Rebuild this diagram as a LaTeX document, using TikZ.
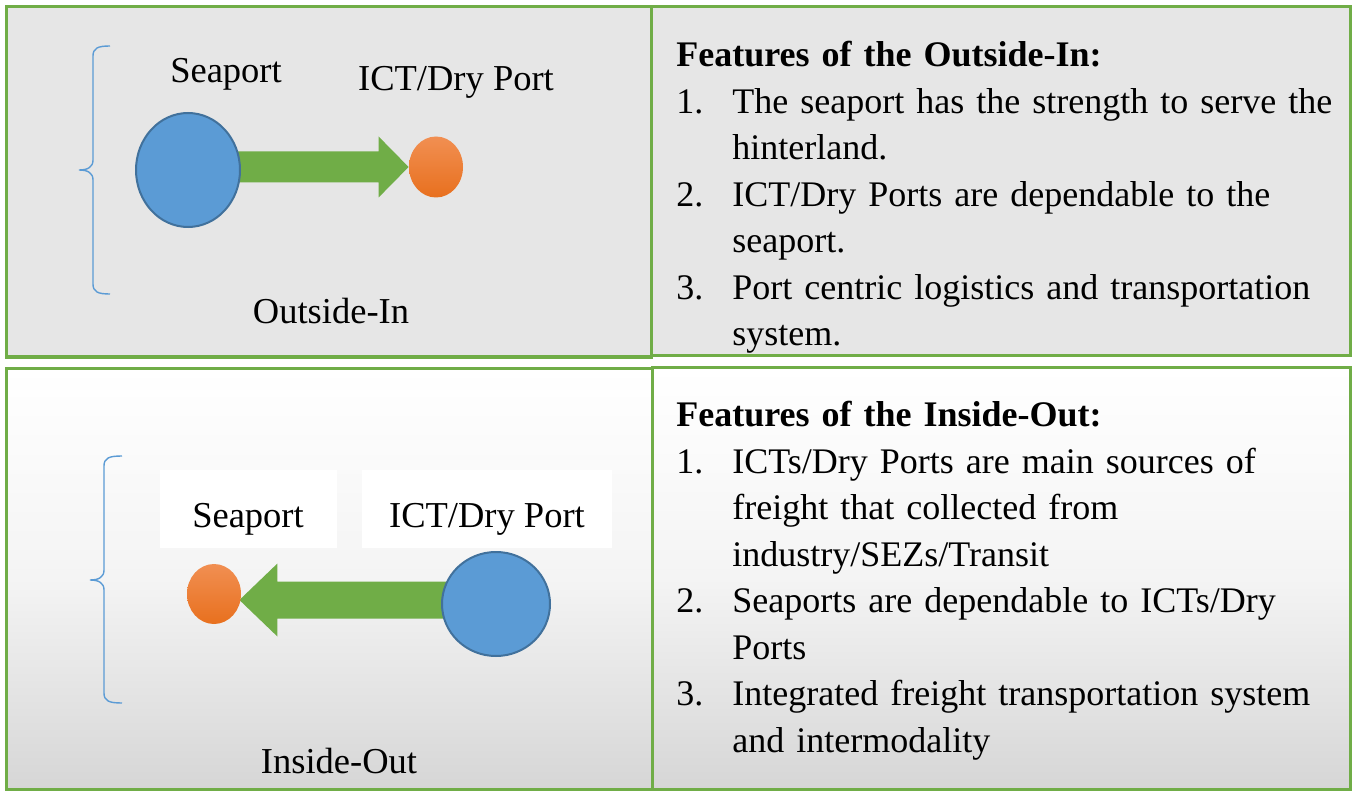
\documentclass[tikz,border=0pt]{standalone}
\usepackage{fontspec}
\setmainfont{Liberation Serif}
\usetikzlibrary{shapes.geometric}
\definecolor{boxgreen}{RGB}{112,173,71}
\definecolor{panelgray}{RGB}{230,230,230}
\definecolor{bluefill}{RGB}{91,155,213}
\definecolor{blueline}{RGB}{65,113,156}
\definecolor{orangetop}{RGB}{241,143,82}
\definecolor{orangebot}{RGB}{232,112,30}
\definecolor{arrowgreen}{RGB}{112,173,71}
\definecolor{bracecol}{RGB}{91,155,213}
\definecolor{shadebot}{RGB}{214,214,214}
\definecolor{shademid}{RGB}{244,244,244}
\pgfdeclarelayer{back}
\pgfdeclarelayer{mid}
\pgfsetlayers{back,mid,main}
\newcommand{\featitem}[1]{\par\hangindent=28pt\hangafter=1\noindent\makebox[28pt][l]{#1}}
\begin{document}
\begin{tikzpicture}[x=0.5pt,y=-0.5pt,
  panel/.style={draw=boxgreen,line width=1.5pt},
  bigcirc/.style={ellipse,draw=blueline,line width=1pt,fill=bluefill,inner sep=0pt},
  smallcirc/.style={ellipse,top color=orangetop,bottom color=orangebot,draw=none,inner sep=0pt},
  lbl/.style={font=\fontsize{18.25pt}{22pt}\selectfont,inner sep=0pt,anchor=base},
  whitelbl/.style={lbl,fill=white,text height=28.5pt,text depth=10.5pt},
  feat/.style={font=\fontsize{18pt}{23.25pt}\selectfont\setlength\parindent{0pt},inner sep=0pt,anchor=north west,text width=336pt,align=left},
  brace/.style={draw=bracecol,line width=0.7pt},
  flow/.style={fill=arrowgreen}
  ]
\useasboundingbox (0,0) rectangle (1355,791);
\begin{pgfonlayer}{back}
\fill[white] (0,0) rectangle (1355,791);
\path[panel,fill=panelgray] (6,7) rectangle (651,357);
\path[panel,fill=panelgray] (651,7) rectangle (1350,356);
\path[panel,top color=white,bottom color=shadebot,middle color=shademid] (6,368) rectangle (652,789);
\path[panel,top color=white,bottom color=shadebot,middle color=shademid] (652,367) rectangle (1350,789);
\end{pgfonlayer}

% ---- Outside-In ----
\node[bigcirc,minimum width=52pt,minimum height=57pt] (blue1) at (188,170) {};
\node[smallcirc,minimum width=27pt,minimum height=30.5pt] (orange1) at (436,167) {};
\node[lbl] (sea1) at (226,83) {Seaport};
\node[lbl] (ict1) at (456,91) {ICT/Dry Port};
\node[lbl] (oi) at (331,323) {Outside-In};
\coordinate (t1) at (orange1.west);
\coordinate (s1) at (blue1.center |- t1);
\begin{pgfonlayer}{mid}
\fill[flow] (t1) -- ([shift={(-30,-30.5)}]t1) -- ([shift={(-30,-15.5)}]t1) -- ([shift={(0,-15.5)}]s1)
  -- ([shift={(0,15.5)}]s1) -- ([shift={(-30,15.5)}]t1) -- ([shift={(-30,30.5)}]t1) -- cycle;
\end{pgfonlayer}
\draw[brace] (110,46) .. controls (98,46) and (93,48) .. (93,56) -- (93,160)
  .. controls (93,167) and (88,170) .. (79,170) .. controls (88,170) and (93,173) .. (93,180)
  -- (93,284) .. controls (93,292) and (98,294) .. (110,294);

% ---- Inside-Out ----
\node[bigcirc,minimum width=54pt,minimum height=52pt] (blue2) at (496,604) {};
\node[smallcirc,minimum width=27pt,minimum height=30pt] (orange2) at (214,594) {};
\node[whitelbl,minimum width=88.5pt] (sea2) at (248,527) {Seaport};
\node[whitelbl,minimum width=125pt] (ict2) at (487,527) {ICT/Dry Port};
\node[lbl] (io) at (339,773) {Inside-Out};
\path (orange2.east) ++(-2,6) coordinate (t2);
\coordinate (s2) at (blue2.center |- t2);
\begin{pgfonlayer}{mid}
\fill[flow] (t2) -- ([shift={(38,-36.5)}]t2) -- ([shift={(38,-18.5)}]t2) -- ([shift={(0,-18.5)}]s2)
  -- ([shift={(0,18.5)}]s2) -- ([shift={(38,18.5)}]t2) -- ([shift={(38,36.5)}]t2) -- cycle;
\end{pgfonlayer}
\draw[brace] (122,456) .. controls (109,456) and (104,458) .. (104,466) -- (104,570)
  .. controls (104,577) and (99,580) .. (90,580) .. controls (99,580) and (104,583) .. (104,590)
  -- (104,693) .. controls (104,701) and (109,703) .. (122,703);

% ---- Feature texts ----
\node[feat] (feat1) at (676,41) {\textbf{Features of the Outside-In:}
\featitem{1.}The seaport has the strength to serve the\newline hinterland.
\featitem{2.}ICT/Dry Ports are dependable to the\newline seaport.
\featitem{3.}Port centric logistics and transportation\newline system.\par};
\node[feat] (feat2) at (676,401) {\textbf{Features of the Inside-Out:}
\featitem{1.}ICTs/Dry Ports are main sources of\newline freight that collected from\newline industry/SEZs/Transit
\featitem{2.}Seaports are dependable to ICTs/Dry\newline Ports
\featitem{3.}Integrated freight transportation system\newline and intermodality\par};
\end{tikzpicture}
\end{document}
